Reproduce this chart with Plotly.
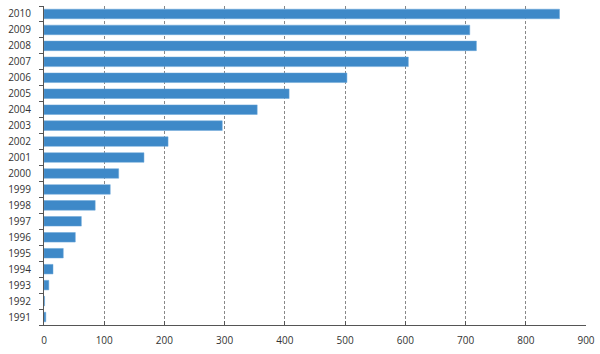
import plotly.graph_objects as go

years = [str(y) for y in range(1991, 2011)]
values = [3, 1, 8, 15, 32, 52, 62, 85, 110, 124,
          166, 206, 296, 354, 407, 503, 605, 718, 707, 856]
x_ticks = [0, 100, 200, 300, 400, 500, 600, 700, 800, 900]

fig = go.Figure(go.Bar(
    x=values, y=years, orientation="h",
    marker=dict(color="#3e89c8", line=dict(color="#6aa6d8", width=0.5)),
))

fig.update_layout(
    width=600, height=354,
    margin=dict(l=44, r=14, t=6, b=29),
    paper_bgcolor="white", plot_bgcolor="white",
    bargap=0.4, showlegend=False,
    font=dict(family="Open Sans", size=10, color="#333333"),
)
fig.update_xaxes(
    range=[0, 900], tickvals=x_ticks, ticktext=[str(v) for v in x_ticks],
    showgrid=True, gridcolor="#888888", griddash="3px,2px", gridwidth=1,
    showline=True, linecolor="#555555", linewidth=1,
    ticks="inside", ticklen=4, tickcolor="#555555",
    zeroline=False, ticklabelstandoff=6,
)
fig.update_yaxes(
    type="category", categoryorder="array", categoryarray=years,
    showgrid=False, showline=True, linecolor="#555555", linewidth=1,
    ticks="outside", ticklen=4, tickcolor="#555555", tickson="boundaries",
    ticklabelstandoff=10,
)

fig.write_html("out.html")
